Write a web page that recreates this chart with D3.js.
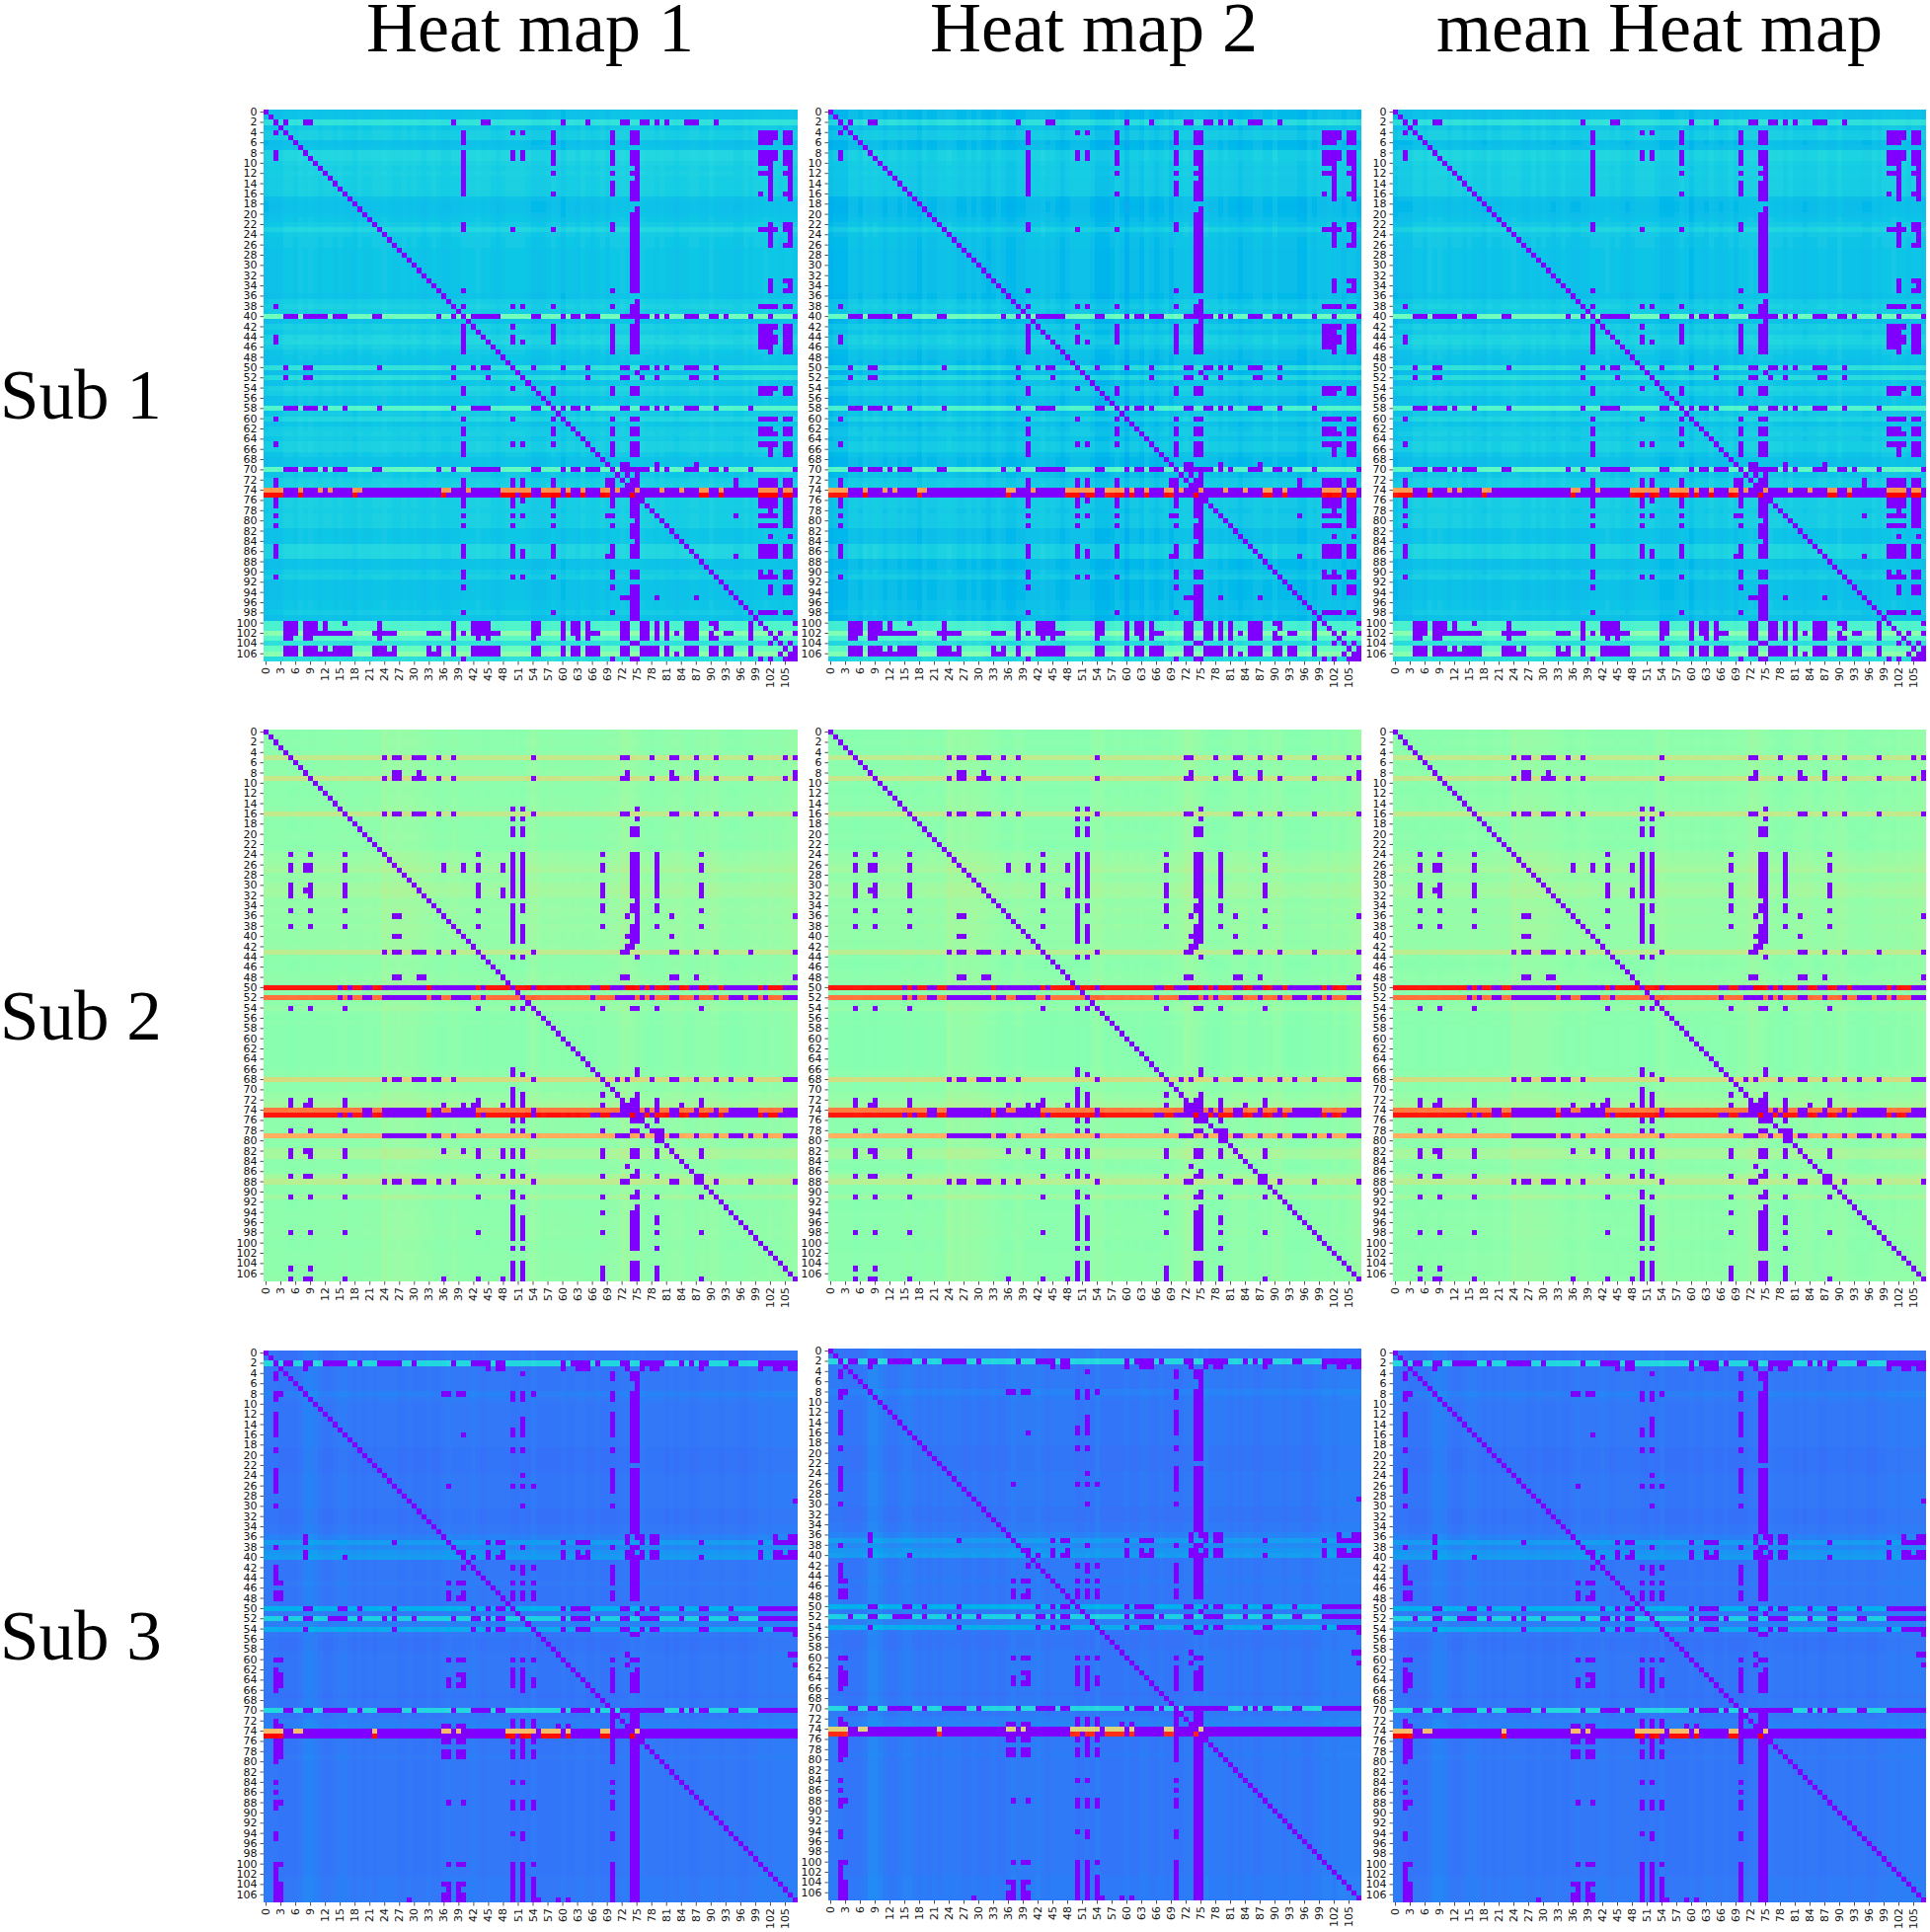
<!DOCTYPE html>
<html>
<head>
  <meta charset="UTF-8">
  <style>
      html, body { margin: 0; padding: 0; background: #fff; }
      svg { display: block; }
      .tick text { font-family: "DejaVu Sans"; font-size: 11px; fill: #111; }
      .tick line { stroke: #222; stroke-width: 0.8; }
      .big { font-family: "Liberation Serif"; font-size: 72px; fill: #000; }
      .sub { font-size: 71px; }
  </style>
</head>
<body>
<svg></svg>
<script src="https://d3js.org/d3.v7.min.js"></script>

<script>

let width = 1955, height = 1957;

const titles = ["Heat map 1", "Heat map 2", "mean Heat map"];
const subjects = ["Sub 1", "Sub 2", "Sub 3"];
const N = 108;
const indexes = d3.range(N);
const yTicks = indexes.filter(d => d % 2 == 0);
const xTicks = indexes.filter(d => d % 3 == 0);

// rainbow level of every row
const sub1RowLevel = [.27,.27,.34,.28,.295,.295,.265,.27,.31,.31,.30,.295,.30,.295,.295,.295,.295,.27,.265,.265,.27,.275,.285,.31,.285,.28,.28,.275,.275,.275,.275,.275,.275,.275,.275,.275,.27,.29,.30,.29,.47,.27,.295,.285,.305,.31,.295,.28,.275,.27,.34,.27,.33,.275,.305,.295,.275,.275,.41,.285,.31,.275,.29,.295,.285,.30,.30,.28,.27,.27,.44,.28,.295,.30,.80,.99,.295,.295,.29,.295,.295,.295,.275,.275,.275,.31,.31,.31,.27,.27,.285,.295,.27,.27,.27,.27,.275,.275,.285,.27,.40,.40,.52,.42,.34,.45,.52,.33];
const sub1ColLevel = [-.01,-.005,-.005,-.005,.005,.005,0,.008,.005,.008,.005,0,.005,.005,0,.005,0,0,-.005,.005,0,0,.005,.005,.008,.005,0,0,.005,0,.005,0,-.005,0,.005,0,-.005,-.005,0,0,.005,.005,.005,.008,.002,.005,0,-.005,0,.005,.005,.005,.005,0,-.008,-.008,-.008,-.003,.005,0,-.012,0,0,-.005,.005,0,-.005,0,.005,-.004,.005,.005,.008,.005,.01,.01,.008,.005,.005,0,.005,0,0,-.005,0,0,.005,.005,0,0,.008,0,0,0,0,-.005,-.005,.005,0,.005,.005,.008,.005,.005,0,.005,.005,0];
const sub2RowLevel = [.55,.55,.555,.55,.555,.655,.555,.555,.56,.665,.555,.55,.55,.555,.555,.56,.655,.555,.55,.55,.555,.555,.55,.555,.575,.575,.585,.60,.57,.57,.585,.595,.585,.565,.57,.575,.57,.565,.575,.57,.57,.565,.57,.645,.555,.55,.55,.555,.56,.56,1,.55,.88,.555,.57,.55,.545,.55,.545,.545,.545,.545,.545,.545,.545,.545,.55,.555,.695,.555,.555,.57,.58,.60,.87,1,.555,.555,.555,.785,.555,.555,.60,.60,.555,.55,.555,.60,.64,.555,.555,.59,.55,.55,.555,.555,.555,.555,.56,.555,.55,.55,.555,.555,.555,.555,.555,.56];
const sub2ColLevel = [0,0,0,0,0,-.005,-.005,0,0,-.005,0,0,0,0,0,.005,.005,0,0,0,.005,.005,0,.005,.03,.02,.02,.025,.02,.02,.02,.015,.01,.01,.005,0,0,.005,.01,.005,0,0,0,0,0,-.005,0,0,0,0,-.005,0,-.005,.01,.02,.01,0,.005,.005,.005,0,.005,0,.005,0,0,0,.005,.005,.005,.01,.01,.03,.025,.02,.01,.005,0,-.005,0,0,.005,.01,.01,.01,0,0,.005,.01,.005,.015,.015,0,0,-.005,-.005,0,0,.005,.005,.005,0,.01,.005,.005,.01,.015,.02];
const sub3RowLevel = [.155,.155,.325,.16,.16,.16,.16,.16,.175,.165,.16,.16,.16,.16,.16,.16,.16,.16,.16,.155,.155,.155,.155,.155,.16,.16,.16,.16,.16,.16,.16,.155,.155,.155,.16,.16,.175,.215,.185,.205,.215,.16,.16,.16,.16,.165,.16,.16,.16,.16,.25,.165,.31,.17,.24,.16,.155,.155,.155,.16,.16,.16,.16,.16,.16,.16,.16,.155,.16,.16,.325,.16,.17,.175,.74,1,.16,.16,.16,.165,.16,.16,.16,.16,.16,.16,.16,.16,.16,.16,.16,.16,.16,.16,.16,.16,.16,.16,.16,.16,.16,.16,.16,.165,.165,.165,.165,.165];
const sub3ColLevel = [.005,.005,.005,0,0,0,0,.005,.02,.02,.015,.005,0,0,.005,.01,.01,.005,0,.005,0,.005,0,.005,.005,.005,.005,0,0,.005,0,0,0,.005,0,0,.005,.01,.005,.005,.005,.005,.01,.005,0,.005,.005,.005,.005,.005,0,0,.005,0,.01,0,0,0,0,0,.005,0,0,.005,.005,0,0,.005,0,0,0,0,.005,.005,.01,.005,.01,.005,.005,.005,.005,0,.005,0,.005,.005,0,0,.005,.005,.005,.005,0,.005,.005,.005,0,0,.005,.005,.01,.01,.005,.01,.01,.01,.01,.01];

// per heat map shift of the whole panel, one line per subject
const mapShift = [[.004, -.01, 0], [-.025, -.03, -.027], [-.009, -.008, -.009]];
const stripeGain = [[1, 1.7, 1.2], [1, 1.2, 1], [1, 1.3, 1]];
const hotShift = [[0, 0, 0], [0, 0, 0], [0, -.05, 0]];

// columns with the lowest colour, by row (the diagonal is added below)
const sub1Purple = [
  [2,"4,8-9,38,44-45,60,65,72-73,76-77,79,81,85-87,91"],
  [4,"2,40,50,52,58,70,74-75,100-103,105-106"],[5,"40,58,70,74-75,100-103,105-106"],[6,"40,58,70,74-75,100-102,105-106"],
  [8,"2,40,50,52,58,70,74-75,100-103,105-106"],[9,"2,40,50,52,58,70,74-75,100-103,105-106"],[10,"40,58,70,74-75,100-102,105-106"],
  [11,"40,75,102,106"],[12,"40,58,70,74-75,100-102,105-106"],[13,"40,75,102,106"],[14,"40,70,74-75,102,106"],[15,"40,70,74-75,102,106"],
  [16,"40,58,70,74-75,100,102,105-106"],[17,"74-75,102,106"],[19,"75"],[20,"74-75"],[21,"74-75"],
  [22,"40,70,74-75,102,105-106"],[23,"40,50,58,70,74-75,100-103,105-106"],[24,"74-75,102,106"],[25,"74-75,102,106"],[26,"74-75,102,105-106"],
  [27,"74-75"],[28,"74-75"],[29,"74-75"],[30,"74-75"],[31,"74-75"],[32,"74-75"],
  [33,"74-75,102,105-106"],[34,"74-75,102,106"],[35,"40,70,74-75,102,105-106"],[37,"75"],
  [38,"2,38,40,50,52,58,70,74-75,100-103,105-106"],[39,"74-75"],
  [40,"4-6,8-12,14-16,22-23,35,38,40,42-47,54-55,60,62-63,65-67,72-77,79,81,85-87,90-91,93,98,102,107"],[41,"75"],
  [42,"40,50,58,70,74-75,100-103,105-106"],[43,"40,58,70,74-75,100-102,105-106"],[44,"2,40,50,58,70,74-75,100-103,105-106"],[45,"2,40,50,52,58,70,74-75,100-103,105-106"],
  [46,"40,70,74-75,100-102,105-106"],[47,"40,70,74-75,102,105-106"],
  [50,"4,8-9,23,38,42,44-45,54,60,65,72-73,76-77,79,81,85-87,91"],[51,"75"],[52,"4,8-9,38,45,65,72-73,76,79,86-87,91"],
  [54,"40,50,58,70,74-75,100-103,105-106"],[55,"40,58,70,74-75,100-102,105-106"],
  [58,"4-6,8-10,12,16,23,38,42-45,54-55,60,62-63,65,72-73,76-77,79,81,85-87,91,98"],
  [60,"2,40,50,58,70,74-75,100-103,105-106"],[62,"40,58,70,74-75,100-102,105-106"],[63,"40,58,70,74-75,100-103,105-106"],
  [65,"2,40,50,52,58,70,74-75,100-103,105-106"],[66,"40,70,74-75,102,105-106"],[67,"40,70,74-75,102,105-106"],
  [69,"72-73,79,87"],[70,"4-6,8-10,12,14-16,22-23,35,38,42-47,54-55,60,62-63,65-67,72-77,79,81,85-87,90-91,93,98,107"],[71,"73,75"],
  [72,"2,40,50,52,58,69-70,74-75,95,100-103,105-106"],[73,"2,40,50,52,58,69-70,74-75,95,100-103,105-106"],
  [74,"4-6,8-10,12,14-17,20-35,38-40,42-47,54-55,60,62-63,65-67,70,72-74,76-79,81-83,85-87,90-91,93-99,104,107"],
  [75,"4-6,8-17,19-35,37-47,51,54-55,60,62-63,65-67,70-73,75-87,90-91,93-99,104,107"],
  [76,"2,40,50,52,58,70,74-75,100-103,105-106"],[77,"2,40,50,58,70,74-75,100-103,105-106"],[78,"74-75,102,105-106"],
  [79,"2,40,50,52,58,69-70,74-75,95,100-103,105-106"],[80,"75,105-106"],[81,"2,40,50,58,70,74-75,100-103,105-106"],
  [82,"74-75"],[83,"74-75,102,106"],[84,"75"],
  [85,"2,40,50,58,70,74-75,100-103,105-106"],[86,"2,40,50,52,58,70,74-75,100-103,105-106"],[87,"2,40,50,52,58,69-70,74-75,95,100-103,105-106"],
  [90,"40,70,74-75,100,102,105-106"],[91,"2,40,50,52,58,70,74-75,100-103,105-106"],[93,"40,70,74-75,102,105-106"],
  [94,"74-75,102,105-106"],[95,"72-75,79,87"],[96,"74-75"],[97,"74-75"],[98,"40,58,70,74-75,100-103,105-106"],[99,"74-75"],
  [100,"4-6,8-10,12,16,23,38,42-45,54-55,60,62-63,65,72-73,76-77,79,81,85-87,90-91,98,107"],
  [101,"4-6,8-10,12,23,38,42-45,54-55,60,62-63,65,72-73,76-77,79,81,85-87,91,98"],
  [102,"4-6,8-17,22-26,33-35,38,40,42-47,54-55,60,62-63,65-67,72-73,76-77,79,81,83,85-87,90,93-94,98,104,107"],
  [103,"4-5,8-9,23,38,43,45,54,60,63,65,72-73,76-77,79,81,85-87,90-91,98"],
  [104,"74-75,102,106"],
  [105,"4-6,8-10,12,14-17,22-24,26,33,35,38,42-47,54-55,60,62-63,65-67,72-73,76-79,81,85-87,90-91,93-94,98,107"],
  [106,"4-6,8-17,22-26,33-35,38,42-47,54-55,60,62-63,65-67,72-73,76-79,81,83,85-87,90-91,93-94,98,104,107"],
  [107,"40,70,74-75,100,102,105-107"]
];

const sub2Purple = [
  [5,"24,26-27,30-32,35,38,54,72-73,78,82-83,87,91,98,105,107"],
  [8,"26-27,31,73,82,87,107"],[9,"24,26-27,30-32,35,38,54,72-73,78,82-83,87,91,98,105,107"],
  [15,"50,52,75"],[16,"24,26-27,30-32,35,38,54,72-73,82-83,87,91,98,107"],[17,"50,52,75"],
  [19,"50,52,74-75"],[20,"50,52,74-75"],
  [24,"5,9,16,43,50,52,68,74-75,79,88"],[25,"50,52,74-75,79"],
  [26,"5,8-9,16,36,40,43,48,50,52,68,74-75,79,88"],[27,"5,8-9,16,36,40,43,48,50,52,68,74-75,79,88"],
  [28,"50,52,74-75,79"],[29,"50,52,74-75,79"],
  [30,"5,9,16,43,50,52,68,74-75,79,88"],[31,"5,8-9,16,43,48,50,52,68,74-75,79,88"],[32,"5,9,16,43,48,50,52,68,74-75,79,88"],
  [33,"75"],[34,"50,52,68,74-75,79"],[35,"5,9,16,43,50,52,68,74-75,79,88"],
  [36,"26-27,50,73,75,82,107"],[37,"50,75"],[38,"5,9,16,43,50,52,68,74-75,79,88"],[39,"50,52,74-75"],
  [40,"26-27,50,52,73-75,82"],[41,"50,52,74-75"],[42,"73-74"],
  [43,"24,26-27,30-32,35,38,54,72-73,82-83,87,91,98,107"],[44,"50,52,75"],
  [48,"26-27,31-32,72-73,82-83,87,107"],
  [50,"15,17,20-21,24-32,34-42,44,54,66-67,70-72,76,78,82-83,86-87,90-91,93-99,101,105-107"],
  [52,"15,17,20-21,24-32,34-35,38-41,44,66,71-74,76,78,82-83,87,91,94-96,98-99,101,105-107"],
  [54,"5,9,16,43,50,52,68,74-75,79,88"],
  [66,"50,75"],[67,"50,52,75"],
  [68,"24,26-27,30-32,34-35,38,54,71,73,78,82-83,87,91,94,98,105-107"],
  [70,"50"],[71,"50,52,68,75"],[72,"5,9,16,43,50,52,74-75,79,88"],[73,"5,8-9,16,36,40,42-43,48,50,52,68,72-75,79,84,88"],
  [74,"20-21,24-32,34-35,38-42,54,72-75,77,79,82-83,87,91,94-99,105-107"],
  [75,"15,17,20-21,24-32,34-42,44,54,66-67,70-73,76,78,82-83,86-87,90-91,93-99,101,104-107"],
  [76,"50,52,74-76,79"],[78,"5,9,16,43,50,52,68,74-75,79-80"],
  [79,"24-32,34-35,38,54,71-73,76,79-80,82-83,87,91,94-96,98,101,105-107"],[80,"79-80"],
  [82,"5,8-9,16,36,40,43,48,50,52,68,74-75,79,88"],[83,"5,9,16,43,48,50,52,68,74-75,79,88"],
  [85,"73"],[86,"50,75"],[87,"5,8-9,16,43,48,50,52,68,74-75,79,87-88"],
  [88,"24,26-27,30-32,35,38,54,72-73,82-83,87-88,91,98,107"],
  [90,"50,75"],[91,"5,9,16,43,50,52,68,74-75,79,88"],
  [93,"50,75"],[94,"50,68,74-75"],[95,"50,52,74-75,79"],[96,"50,52,74-75,79"],[97,"50,52,74-75"],
  [98,"5,9,16,43,50,52,68,74-75,79,88"],[99,"50,52,74-75"],[100,"74-75"],[101,"50,52,74-75,79"],
  [104,"50,52,74-75"],[105,"5,9,50,52,68,74-75,79"],[106,"50,52,68,74-75,79"],[107,"5,8-9,16,36,43,48,50,52,68,74-75,79,88"]
];

const sub3Purple = [
  [2,"4-5,8-9,12-16,19,23-27,30,38,42-45,47-48,60,62-65,67,72-73,76-80,84,86,88-89,94-95,100-107"],
  [3,"8,45,47-48,60,63-65,73,76,78-79,88,100,103-104,106-107"],
  [4,"2,52,70,74-75"],[5,"2,70,74-75"],[6,"75"],[7,"75"],
  [8,"2-3,36-37,39-40,50,52,54,70,74-75"],[9,"2,50,52,70,74-75"],[10,"74-75"],[11,"74-75"],
  [12,"2,70,74-75"],[13,"2,52,70,74-75"],[14,"2,52,70,74-75"],[15,"2,50,52,70,74-75"],[16,"2,40,50,52,70,74-75"],[17,"74-75"],
  [18,"74-75"],[19,"2,50,52,70,74-75"],[20,"74-75"],[21,"74-75"],
  [23,"2,70,74-75"],[24,"2,52,70,74-75"],[25,"2,70,74-75"],[26,"2,37,50,52,54,70,74-75"],[27,"2,70,74-75"],[28,"74-75"],[29,"74-75,107"],
  [30,"2,52,70,74-75"],[31,"74-75"],[32,"74-75"],[33,"74-75"],[34,"74-75"],[35,"74-75"],
  [36,"8,73,75-76,78-79,103,106-107"],[37,"8,26,45,47-48,60,63-65,73,76,78-79,88,100,103-107"],[38,"2,52,70,74-75"],
  [39,"8,40,45,48,60,63,65,73-74,76,78-79,100,103-104,106-107"],[40,"8,16,42,45,47-48,60,63-65,73-76,78-79,88,100,103-107"],
  [41,"74-75"],[42,"2,40,50,52,54,70,74-75"],[43,"2,52,70,74-75"],[44,"2,70,74-75"],[45,"2-3,37,39-40,50,52,54,70,74-75"],
  [46,"74-75"],[47,"2-3,37,40,50,52,54,70,74-75"],[48,"2-3,37,39-40,50,52,54,70,74-75"],
  [50,"8-9,15-16,19,26,42,45,47-48,60,62-65,72-73,76,78-79,84,88-89,94,100-107"],[51,"75"],
  [52,"4,8-9,13-16,19,24,26,30,38,42-43,45,47-48,60,62-65,67,72-73,76-79,84,88-89,94-95,100-107"],
  [54,"8,26,42,45,47-48,60,63-65,72-73,76,78-79,88-89,100,103-107"],[55,"74-75,107"],
  [59,"73,106-107"],[60,"2-3,37,39-40,50,52,54,70,74-75"],[61,"73,107"],[62,"2,50,52,70,75"],
  [63,"2-3,39-40,50,52,70,74-75"],[64,"2-3,37,40,50,52,54,70,74-75"],[65,"2-3,37,39-40,50,52,54,70,74-75"],[66,"2,52,70,74-75"],
  [70,"4-5,8-9,12-16,19,23-27,30,38,42-45,47-48,60,62-65,67,72-80,84,86,88-89,94-95,100-107"],
  [71,"70,74-75"],[72,"2,50,52,54,70,74-75"],[73,"2-3,36-37,39-40,50,52,54,59,61,70,74-75"],
  [74,"4-5,8-21,23-35,38,40-48,55,60,62-67,70-74,76-107"],
  [75,"4-21,23-48,51,54-55,60,62-67,70-73,75-107"],
  [76,"2-3,36-37,39-40,50,52,54,70,74-75"],[77,"2-3,52,70,74-75"],[78,"2-3,36-37,39-40,50,52,54,70,74-75"],[79,"2-3,36-37,39-40,50,52,54,70,74-75"],
  [80,"2,70,74-75"],[81,"74-75"],[82,"74-75"],[83,"74-75"],[84,"2,50,52,70,74-75"],[85,"74-75"],[86,"2,70,74-75"],[87,"74-75"],
  [88,"2-3,37,40,50,52,54,70,74-75"],[89,"2,50,52,54,70,74-75"],[90,"74-75"],[91,"74-75"],[92,"74-75"],[93,"74-75"],
  [94,"2,50,52,70,74-75"],[95,"2,52,70,74-75"],[96,"74-75"],[97,"74-75"],[98,"74-75"],[99,"74-75"],
  [100,"2-3,37,39-40,50,52,54,70,74-75"],[101,"2,50,52,70,74-75"],[102,"2,50,52,70,74-75"],[103,"2,50,52,54,70,74-75"],
  [104,"2-3,36-37,39-40,50,52,54,70,74-75"],[105,"2-3,37,39,50,52,54,70,74-75"],[106,"2-3,36-37,39-40,50,52,54,70,74-75"],
  [107,"2-3,29,36-37,39-40,50,52,54-55,59,61,70,74-75"]
];

const rowLevels = [sub1RowLevel, sub2RowLevel, sub3RowLevel];
const colLevels = [sub1ColLevel, sub2ColLevel, sub3ColLevel];
const purples = [sub1Purple, sub2Purple, sub3Purple];

const panelX = [267, 839, 1411];
const panelW = [541, 540, 540];
const panelTop = [[111, 111, 111], [739, 739, 739], [1368, 1366, 1368]];
const panelH = 559;

let svg = d3.select("svg")
    .attr("width", width)
    .attr("height", height)
    .attr("viewBox", "0 0 " + width + " " + height);

// the picture is soft, cells bleed into each other a little
svg.append("defs")
  .append("filter")
    .attr("id", "soft")
    .attr("x", "-1%").attr("y", "-1%").attr("width", "102%").attr("height", "102%")
  .append("feGaussianBlur")
    .attr("stdDeviation", 0.5);

// same curve as matplotlib's rainbow
function rainbow(t) {
  let r = Math.abs(2 * t - 0.5), g = Math.sin(Math.PI * t), b = Math.cos(Math.PI * t / 2);
  return d3.rgb(255 * Math.min(r, 1), 255 * Math.min(g, 1), 255 * Math.min(b, 1));
}
let color = d3.scaleSequential(rainbow).domain([0, 1]).clamp(true);

function purpleSet(list) {
  let s = new Set();
  list.forEach(e => {
    e[1].split(",").forEach(part => {
      let p = part.split("-").map(Number);
      d3.range(p[0], (p.length > 1 ? p[1] : p[0]) + 1).forEach(c => s.add(e[0] * N + c));
    });
  });
  indexes.forEach(i => s.add(i * N + i));
  return s;
}

let y = d3.scaleBand().domain(indexes).range([0, panelH]);

subjects.forEach((sub, si) => {
  let low = purpleSet(purples[si]);
  titles.forEach((title, mi) => {
    let x = d3.scaleBand().domain(indexes).range([0, panelW[mi]]);
    let cells = [];
    indexes.forEach(r => indexes.forEach(c => {
      let level = rowLevels[si][r];
      let v = low.has(r * N + c) ? 0
        : level + colLevels[si][c] * stripeGain[si][mi] + mapShift[si][mi] + (level > .7 ? hotShift[si][mi] : 0);
      cells.push({r: r, c: c, v: v});
    }));

    let panel = svg.append("g")
        .attr("class", "panel")
        .attr("transform", "translate(" + panelX[mi] + "," + panelTop[si][mi] + ")");

    panel.append("g")
        .attr("filter", "url(#soft)")
      .selectAll("rect")
      .data(cells)
      .enter()
      .append("rect")
        .attr("x", d => x(d.c))
        .attr("y", d => y(d.r))
        .attr("width", x.bandwidth())
        .attr("height", y.bandwidth())
        .attr("shape-rendering", "crispEdges")
        .attr("fill", d => color(d.v));

    let left = panel.append("g")
        .call(d3.axisLeft(y).tickValues(yTicks).tickSize(3.5).tickPadding(3));
    left.select(".domain").remove();

    let bottom = panel.append("g")
        .attr("transform", "translate(0," + panelH + ")")
        .call(d3.axisBottom(x).tickValues(xTicks).tickSize(3.5).tickPadding(2));
    bottom.select(".domain").remove();
    bottom.selectAll("text")
        .attr("transform", "rotate(-90)")
        .attr("text-anchor", "end")
        .attr("x", -6)
        .attr("y", 0)
        .attr("dy", "0.32em");
  });
});

const titleX = [537, 1108, 1681];
svg.selectAll("text.title")
  .data(titles)
  .enter()
  .append("text")
    .attr("class", "big title")
    .attr("x", (d, i) => titleX[i])
    .attr("y", 52)
    .attr("text-anchor", "middle")
    .text(d => d);

const subBaseline = [424, 1053, 1681];
svg.selectAll("text.sub")
  .data(subjects)
  .enter()
  .append("text")
    .attr("class", "big sub")
    .attr("x", 0)
    .attr("y", (d, i) => subBaseline[i])
    .text(d => d);

</script>

</body>
</html>
